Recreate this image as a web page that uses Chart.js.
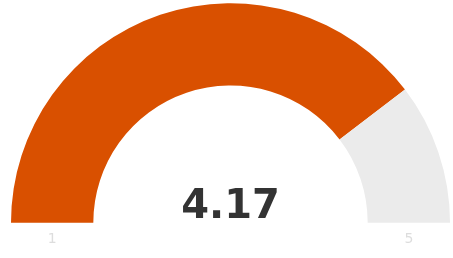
<!DOCTYPE html>
<html>
<head>
<meta charset="utf-8">
<script src="https://cdn.jsdelivr.net/npm/chart.js@4/dist/chart.umd.min.js"></script>
<style>
html,body{margin:0;padding:0;background:#fff;}
#wrap{width:453px;height:258px;position:relative;}
</style>
</head>
<body>
<div id="wrap"><canvas id="c" width="453" height="258"></canvas></div>
<script>
const scaleRange = [1, 5];
const gaugeValue = [4.17];
const tickLabels = ['1', '5'];
const segmentColors = ['#D95000', '#EBEBEB'];

const filled = gaugeValue[0] - scaleRange[0];
const remaining = scaleRange[1] - gaugeValue[0];

const gaugeText = {
  id: 'gaugeText',
  afterDraw(chart) {
    const meta = chart.getDatasetMeta(0);
    const arc = meta.data[0];
    const cx = arc.x, cy = arc.y;
    const outer = arc.outerRadius, inner = arc.innerRadius;
    const ctx = chart.ctx;
    ctx.save();
    ctx.textAlign = 'center';
    ctx.textBaseline = 'alphabetic';
    ctx.fillStyle = '#333333';
    ctx.font = 'bold 40px "DejaVu Sans"';
    ctx.fillText(gaugeValue[0].toFixed(2), cx, cy - 5);
    ctx.fillStyle = '#DDDDDD';
    ctx.font = '14px "DejaVu Sans"';
    const mid = (outer + inner) / 2;
    ctx.fillText(tickLabels[0], cx - mid, cy + 20);
    ctx.fillText(tickLabels[1], cx + mid, cy + 20);
    ctx.restore();
  }
};

new Chart(document.getElementById('c'), {
  type: 'doughnut',
  data: {
    labels: ['value', 'rest'],
    datasets: [{
      data: [filled, remaining],
      backgroundColor: segmentColors,
      borderWidth: 0
    }]
  },
  options: {
    responsive: false,
    animation: false,
    rotation: -90,
    circumference: 180,
    cutout: '62.5%',
    layout: { padding: { left: 11, right: 3, top: 3, bottom: 35 } },
    plugins: { legend: { display: false }, tooltip: { enabled: false } }
  },
  plugins: [gaugeText]
});
</script>
</body>
</html>
